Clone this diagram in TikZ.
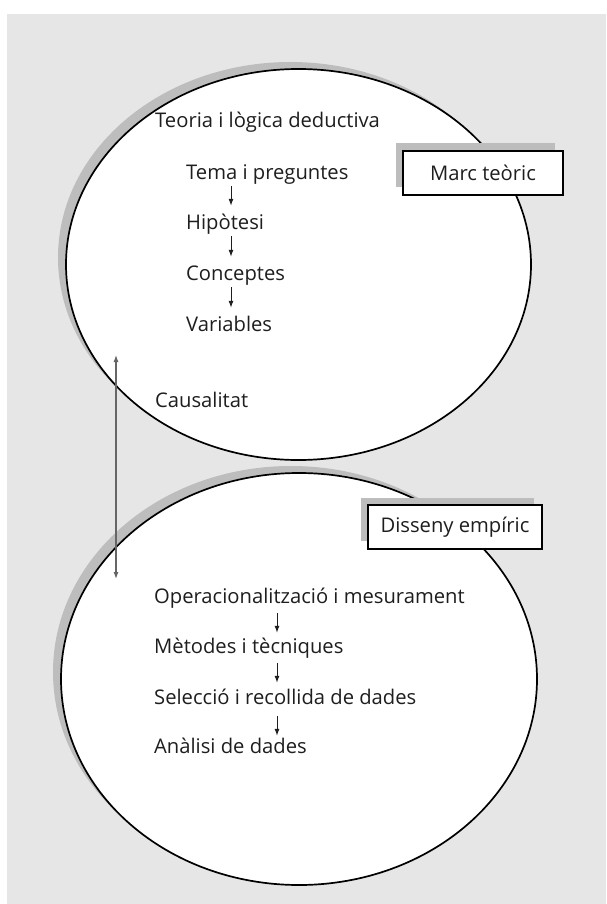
\documentclass[tikz,border=0pt]{standalone}
\usepackage{fontspec}
\setmainfont{Open Sans}
\usetikzlibrary{arrows.meta}
\definecolor{panelgray}{HTML}{E6E6E6}
\definecolor{shadegray}{HTML}{BDBDBD}
\definecolor{txt}{HTML}{1E1E1E}
\begin{document}
\begin{tikzpicture}[x=1pt,y=-1pt,
  lbl/.style={anchor=base west, inner sep=0pt, text height=13pt, text depth=4pt,
    font=\fontsize{20.2}{23}\selectfont, text=txt},
  tag/.style={draw=black, line width=1.7pt, fill=white, inner sep=0pt,
    font=\fontsize{20.2}{23}\selectfont, text=txt},
  ell/.style={draw=black, line width=1.7pt, fill=white},
  flow/.style={draw=txt, line width=1pt, -{Latex[length=7pt,width=5pt]}},
  link/.style={draw=black!60, line width=1.1pt, {Latex[length=7pt,width=5pt]}-{Latex[length=7pt,width=5pt]}}
]
\useasboundingbox (0,0) rectangle (606,904);
\fill[white] (0,0) rectangle (606,904);
\fill[panelgray] (7,14) rectangle (606,904);

% top ellipse
\fill[shadegray] (290.5,257.5) ellipse [x radius=232.5, y radius=195.5];
\draw[ell] (298.5,264.5) ellipse [x radius=232.5, y radius=195.5];

% bottom ellipse
\fill[shadegray] (291,672) ellipse [x radius=238, y radius=206];
\draw[ell] (299,679) ellipse [x radius=238, y radius=206];

% boxes
\fill[shadegray] (396,143) rectangle (555,187);
\node[tag, minimum width=160pt, minimum height=44pt] (marc) at (483,173) {Marc teòric};
\fill[shadegray] (361,498) rectangle (534,541);
\node[tag, minimum width=174pt, minimum height=44pt] (diss) at (455,527) {Disseny empíric};

% top texts
\node[lbl] (teoria) at (155,128) {Teoria i lògica deductiva};
\node[lbl] (tema) at (186,179) {Tema i preguntes};
\node[lbl] (hip) at (186,229) {Hipòtesi};
\node[lbl] (conc) at (186,280) {Conceptes};
\node[lbl] (vars) at (186,331) {Variables};
\node[lbl] (caus) at (155,407) {Causalitat};

\coordinate (ax) at (231,0);
\draw[flow, shorten <=3pt, shorten >=10pt] (tema.south -| ax) -- (hip.north -| ax);
\draw[flow, shorten <=3pt, shorten >=10pt] (hip.south -| ax) -- (conc.north -| ax);
\draw[flow, shorten <=3pt, shorten >=10pt] (conc.south -| ax) -- (vars.north -| ax);

% bottom texts
\node[lbl] (oper) at (154,603) {Operacionalització i mesurament};
\node[lbl] (meto) at (154,653) {Mètodes i tècniques};
\node[lbl] (sele) at (154,704) {Selecció i recollida de dades};
\node[lbl] (anal) at (154,753) {Anàlisi de dades};

\coordinate (bx) at (277,0);
\draw[flow, shorten <=6pt, shorten >=7pt] (oper.south -| bx) -- (meto.north -| bx);
\draw[flow, shorten <=6pt, shorten >=8pt] (meto.south -| bx) -- (sele.north -| bx);
\draw[flow, shorten <=8pt, shorten >=4pt] (sele.south -| bx) -- (anal.north -| bx);

% double arrow
\coordinate (lt) at (116,355);
\coordinate (lb) at (116,579);
\draw[link] (lt) -- (lb);
\end{tikzpicture}
\end{document}
